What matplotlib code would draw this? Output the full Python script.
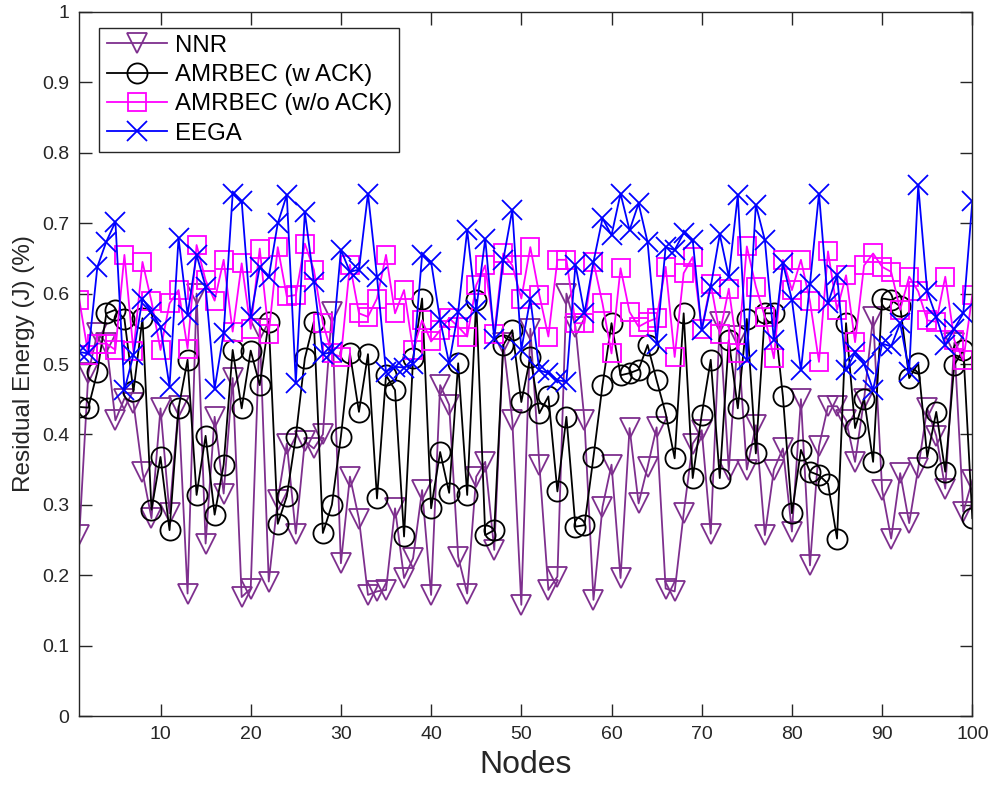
import numpy as np
import matplotlib
matplotlib.use("Agg")
import matplotlib.pyplot as plt

# --- DATA ---
nodes = list(range(1, 101))

nnr = [
    0.257, 0.487, 0.544, 0.530, 0.420, 0.451, 0.445, 0.347, 0.281, 0.437,
    0.288, 0.440, 0.174, 0.600, 0.245, 0.425, 0.316, 0.480, 0.169, 0.181,
    0.550, 0.191, 0.307, 0.387, 0.259, 0.390, 0.380, 0.400, 0.574, 0.217,
    0.340, 0.280, 0.172, 0.177, 0.179, 0.295, 0.196, 0.224, 0.321, 0.172,
    0.470, 0.442, 0.226, 0.174, 0.340, 0.361, 0.236, 0.530, 0.420, 0.158,
    0.550, 0.357, 0.179, 0.198, 0.600, 0.553, 0.420, 0.165, 0.297, 0.357,
    0.196, 0.409, 0.302, 0.354, 0.410, 0.181, 0.177, 0.288, 0.387, 0.406,
    0.259, 0.560, 0.349, 0.540, 0.350, 0.413, 0.257, 0.350, 0.380, 0.262,
    0.450, 0.214, 0.383, 0.440, 0.440, 0.420, 0.361, 0.450, 0.567, 0.321,
    0.252, 0.345, 0.274, 0.352, 0.437, 0.398, 0.323, 0.530, 0.290, 0.335,
]

amrbec_ack = [
    0.439, 0.438, 0.489, 0.572, 0.577, 0.564, 0.461, 0.565, 0.293, 0.368,
    0.264, 0.437, 0.506, 0.314, 0.398, 0.286, 0.357, 0.520, 0.437, 0.519,
    0.470, 0.560, 0.273, 0.312, 0.397, 0.508, 0.560, 0.260, 0.300, 0.397,
    0.515, 0.432, 0.514, 0.309, 0.484, 0.463, 0.255, 0.508, 0.593, 0.295,
    0.375, 0.317, 0.501, 0.314, 0.591, 0.257, 0.264, 0.527, 0.548, 0.446,
    0.510, 0.430, 0.454, 0.319, 0.425, 0.269, 0.271, 0.368, 0.470, 0.558,
    0.484, 0.487, 0.492, 0.527, 0.477, 0.430, 0.366, 0.572, 0.338, 0.428,
    0.506, 0.338, 0.534, 0.437, 0.564, 0.373, 0.572, 0.572, 0.454, 0.288,
    0.378, 0.347, 0.342, 0.330, 0.252, 0.558, 0.409, 0.451, 0.361, 0.593,
    0.591, 0.582, 0.480, 0.501, 0.368, 0.432, 0.347, 0.499, 0.520, 0.281,
]

amrbec_noack = [
    0.591, 0.513, 0.529, 0.529, 0.520, 0.655, 0.518, 0.645, 0.589, 0.520,
    0.586, 0.605, 0.522, 0.669, 0.619, 0.590, 0.648, 0.546, 0.643, 0.550,
    0.664, 0.543, 0.666, 0.596, 0.598, 0.671, 0.634, 0.558, 0.515, 0.510,
    0.641, 0.572, 0.567, 0.593, 0.655, 0.572, 0.605, 0.520, 0.562, 0.532,
    0.548, 0.565, 0.553, 0.539, 0.612, 0.640, 0.543, 0.657, 0.640, 0.593,
    0.666, 0.598, 0.539, 0.648, 0.648, 0.558, 0.558, 0.645, 0.586, 0.515,
    0.636, 0.574, 0.553, 0.560, 0.565, 0.638, 0.510, 0.629, 0.652, 0.550,
    0.614, 0.543, 0.607, 0.515, 0.667, 0.610, 0.567, 0.508, 0.648, 0.605,
    0.648, 0.589, 0.503, 0.660, 0.577, 0.626, 0.531, 0.640, 0.657, 0.638,
    0.631, 0.577, 0.624, 0.603, 0.562, 0.560, 0.624, 0.534, 0.505, 0.598,
]

eega = [
    0.517, 0.515, 0.638, 0.674, 0.702, 0.463, 0.513, 0.593, 0.574, 0.553,
    0.468, 0.679, 0.570, 0.655, 0.610, 0.465, 0.544, 0.742, 0.731, 0.567,
    0.638, 0.623, 0.700, 0.740, 0.473, 0.716, 0.617, 0.514, 0.517, 0.662,
    0.631, 0.634, 0.742, 0.624, 0.489, 0.496, 0.495, 0.500, 0.655, 0.645,
    0.562, 0.501, 0.574, 0.690, 0.577, 0.678, 0.536, 0.648, 0.719, 0.520,
    0.593, 0.491, 0.487, 0.477, 0.475, 0.641, 0.572, 0.645, 0.707, 0.683,
    0.742, 0.690, 0.728, 0.673, 0.529, 0.666, 0.662, 0.686, 0.676, 0.548,
    0.610, 0.684, 0.624, 0.740, 0.506, 0.726, 0.676, 0.534, 0.643, 0.591,
    0.491, 0.614, 0.742, 0.586, 0.626, 0.491, 0.517, 0.500, 0.463, 0.529,
    0.525, 0.558, 0.489, 0.754, 0.603, 0.567, 0.527, 0.550, 0.572, 0.731,
]

x_ticks = [10, 20, 30, 40, 50, 60, 70, 80, 90, 100]
y_ticks = [0, 0.1, 0.2, 0.3, 0.4, 0.5, 0.6, 0.7, 0.8, 0.9, 1]
y_tick_labels = ["0", "0.1", "0.2", "0.3", "0.4", "0.5", "0.6", "0.7", "0.8", "0.9", "1"]

# --- STYLE (MATLAB-ish look) ---
plt.rcParams["font.family"] = ["Liberation Sans", "DejaVu Sans"]
AX_COLOR = "#262626"
LW = 1.3

fig = plt.figure(figsize=(9.94, 7.89), dpi=100)
ax = fig.add_axes([0.0798, 0.0925, 0.8984, 0.8923])

ax.plot(nodes, nnr, color="#7E2F8E", marker="v", ms=14.5, mfc="none",
        mew=LW, lw=LW, label="NNR")
ax.plot(nodes, amrbec_ack, color="black", marker="o", ms=14.5, mfc="none",
        mew=LW, lw=LW, label="AMRBEC (w ACK)")
ax.plot(nodes, amrbec_noack, color="#FF00FF", marker="s", ms=13, mfc="none",
        mew=LW, lw=LW, label="AMRBEC (w/o ACK)")
ax.plot(nodes, eega, color="#0000FF", marker="x", ms=15, mew=LW, lw=LW,
        label="EEGA")

ax.set_xlim(1, 100)
ax.set_ylim(0, 1)
ax.set_xticks(x_ticks)
ax.set_yticks(y_ticks)
ax.set_yticklabels(y_tick_labels)

# ticks inside, on all four sides, like MATLAB's box on
ax.tick_params(direction="in", length=9, width=1, colors=AX_COLOR,
               labelsize=14, top=True, right=True, pad=7)
for s in ax.spines.values():
    s.set_color(AX_COLOR)
    s.set_linewidth(1)

ax.set_xlabel("Nodes", fontsize=23, color=AX_COLOR, labelpad=5)
ax.set_ylabel("Residual Energy (J) (%)", fontsize=17.5, color=AX_COLOR, labelpad=5)

leg = ax.legend(loc="upper left", bbox_to_anchor=(0.0224, 0.9777),
                borderaxespad=0, fontsize=17.3, fancybox=False, framealpha=1,
                edgecolor=AX_COLOR, handlelength=2.5, handletextpad=0.35,
                labelspacing=0.3, borderpad=0.3)
leg.get_frame().set_linewidth(1)

fig.savefig("out.png", dpi=100)
